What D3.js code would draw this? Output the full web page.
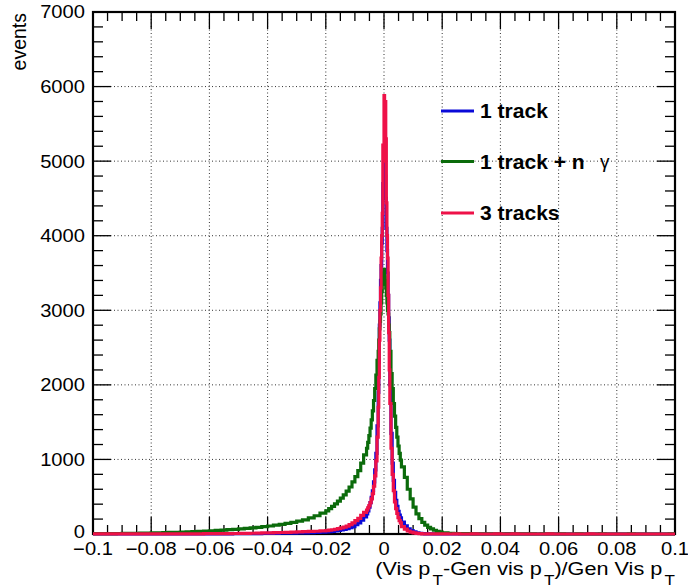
<!DOCTYPE html>
<html>
<head>
<meta charset="utf-8">
<script src="https://cdn.jsdelivr.net/npm/d3@7"></script>
<style>
  body { margin: 0; background: #fff; }
  text { font-family: "Liberation Sans", Arial, sans-serif; }
</style>
</head>
<body>
<svg id="chart" width="688" height="587"></svg>
<script>
// bin layout: [from, to, width] - fine bins near the peak, coarse in the tails
var binSegments = [[-0.1, -0.02, 0.002], [-0.02, -0.006, 0.001], [-0.006, -0.002, 0.0004], [-0.002, 0.002, 0.0002],
                   [0.002, 0.006, 0.0004], [0.006, 0.02, 0.001], [0.02, 0.1, 0.002]];

// counts per bin
var oneTrack = [
  0,0,0,1,0, 0,1,0,1,0, 1,1,1,1,1, 1,2,2,2,2, 2,3,3,3,4, 4,5,5,6,7, 8,9,10,11,12, 14,16,18,21,24,
  28,32,36,41,47,54,62,72,85,100,125,150,185,230,
  270,310,360,420,490,580,700,860,1080,1450,
  1900,2300,2800,3100,3400,3600,3900,4100,4700,4600, 5100,4900,4800,4500,4100,3800,3500,3200,2900,2600,
  2000,1350,950,720,560,450,370,305,255,215,
  160,110,70,45,28,17,10,6,3,2,1,1,0,1,
  1,0,0,1,0, 0,0,0,0,0, 0,1,0,0,0, 0,0,0,0,0, 0,0,0,0,0, 0,0,0,0,0, 0,0,0,0,0, 0,0,0,0,0
];
var oneTrackPhotons = [
  4,5,6,6,7,8,9,10,12,13, 15,17,19,21,23,26,29,32,35,39, 43,48,53,58,63,69,75,82,90,98, 107,118,130,143,157,172,190,215,245,280,
  310,340,370,405,440,480,525,575,630,700,770,850,950,1060,
  1150,1230,1320,1420,1530,1650,1790,1950,2130,2330,
  2450,2600,2750,2850,2950,3100,3250,3350,3450,3500, 3550,3450,3400,3300,3200,3100,3000,2950,2800,2700,
  2450,2150,1950,1750,1580,1430,1300,1180,1080,990,
  900,760,600,470,360,270,205,155,120,90,70,50,35,25,
  16,10,7,5,4,3,3,2,2,2, 2,1,1,1,1,1,0,1,1,0, 1,0,0,1,0,0,0,1,0,0, 0,0,1,0,0,0,0,0,0,1
];
var threeTracks = [
  1,1,1,1,1, 1,1,1,1,1, 2,2,2,2,2, 3,3,3,3,4, 4,5,5,6,7, 8,9,10,12,14, 16,18,20,22,25, 28,31,34,37,41,
  46,51,57,64,72,82,92,105,125,150,180,210,250,290,
  320,350,380,420,470,540,640,780,980,1300,
  1700,2100,2600,3000,3300,3700,4000,4300,5215,5000, 5880,5500,5800,5300,4440,4000,3700,3200,2700,2200,
  1750,1150,800,580,430,340,275,220,180,150,
  100,65,40,25,14,8,4,2,1,1,1,0,1,0,
  1,0,1,0,0, 1,0,0,0,1, 0,0,1,0,0, 0,0,0,1,0, 0,0,0,0,0, 1,0,0,0,0, 0,0,0,0,0, 0,0,0,0,0
];

var seriesNames = ["1 track", "1 track + n", "3 tracks"];
var xTicks = [-0.1, -0.08, -0.06, -0.04, -0.02, 0, 0.02, 0.04, 0.06, 0.08, 0.1];
var yTicks = [0, 1000, 2000, 3000, 4000, 5000, 6000, 7000];

var COLORS = ["#0a0ad8", "#0b6b0b", "#ee1148"];
var LEFT = 93, RIGHT = 675, TOP = 12, BOTTOM = 534;
var SX = 1.12;

var svg = d3.select("#chart");
var x = d3.scaleLinear().domain([-0.1, 0.1]).range([LEFT, RIGHT]);
var y = d3.scaleLinear().domain([0, 7000]).range([BOTTOM, TOP]);

var edges = [];
binSegments.forEach(function(s, k){
    var n = Math.round((s[1] - s[0]) / s[2]);
    for (var i = (k == 0 ? 0 : 1); i <= n; i++) edges.push(+(s[0] + i*s[2]).toFixed(5));
});

function fmt(v){
    if (v == 0) return "0";
    return (v < 0 ? "\u2212" : "") + String(+Math.abs(v).toFixed(2));
}

function label(px, py, str, opts){
    opts = opts || {};
    return svg.append("text")
        .attr("transform", "translate(" + px + "," + py + ") scale(" + (opts.sx || SX) + ",1)")
        .attr("text-anchor", opts.anchor || "middle")
        .attr("font-size", opts.size || 18)
        .attr("font-weight", opts.weight || "normal")
        .attr("dy", opts.dy || 0)
        .text(str);
}

// grid
svg.append("g").selectAll("line").data(xTicks.slice(1, -1)).enter().append("line")
    .attr("x1", function(d){return x(d)}).attr("x2", function(d){return x(d)})
    .attr("y1", TOP).attr("y2", BOTTOM)
    .attr("stroke", "#333").attr("stroke-width", 1).attr("stroke-dasharray", "1,2.5");
svg.append("g").selectAll("line").data(yTicks.slice(1, -1)).enter().append("line")
    .attr("y1", function(d){return y(d)}).attr("y2", function(d){return y(d)})
    .attr("x1", LEFT).attr("x2", RIGHT)
    .attr("stroke", "#333").attr("stroke-width", 1).attr("stroke-dasharray", "1,2.5");

// ticks on all four sides
var xMinor = d3.range(-0.1, 0.10001, 0.005).map(function(d){return +d.toFixed(3)});
var yMinor = d3.range(0, 7001, 200);
var ticks = svg.append("g").attr("stroke", "#000").attr("stroke-width", 1.3);
xMinor.forEach(function(d){
    var major = Math.abs(Math.round(d*50) - d*50) < 1e-6;
    var len = major ? 17 : 9;
    ticks.append("line").attr("x1", x(d)).attr("x2", x(d)).attr("y1", BOTTOM).attr("y2", BOTTOM - len);
    ticks.append("line").attr("x1", x(d)).attr("x2", x(d)).attr("y1", TOP).attr("y2", TOP + len);
});
yMinor.forEach(function(d){
    var len = d % 1000 == 0 ? 18 : 10;
    ticks.append("line").attr("y1", y(d)).attr("y2", y(d)).attr("x1", LEFT).attr("x2", LEFT + len);
    ticks.append("line").attr("y1", y(d)).attr("y2", y(d)).attr("x1", RIGHT).attr("x2", RIGHT - len);
});

svg.append("rect").attr("x", LEFT).attr("y", TOP).attr("width", RIGHT - LEFT).attr("height", BOTTOM - TOP)
    .attr("fill", "none").attr("stroke", "#000").attr("stroke-width", 2.2);

// tick labels
yTicks.forEach(function(d){ label(85, y(d) - (d == 0 ? 2 : 0), String(d), {anchor: "end", dy: "0.36em"}); });
xTicks.forEach(function(d){ label(x(d), 555, fmt(d)); });

// axis titles
svg.append("text")
    .attr("transform", "translate(26,13) rotate(-90)")
    .attr("text-anchor", "end").attr("font-size", 19.5).text("events");

var xt = svg.append("text")
    .attr("transform", "translate(" + RIGHT + ",575) scale(1.14,1)")
    .attr("text-anchor", "end").attr("font-size", 19);
[["(Vis p", 0, 19, 0], ["T", 10, 15, 2], ["-Gen vis p", -10, 19, 0], ["T", 10, 15, 2], [")/Gen Vis p", -10, 19, 0], ["T", 10, 15, 2]].forEach(function(p){
    xt.append("tspan").attr("dy", p[1]).attr("dx", p[3]).attr("font-size", p[2]).text(p[0]);
});

// histograms
var line = d3.line().x(function(d){return x(d[0])}).y(function(d){return y(d[1])});
function steps(values){
    var pts = [];
    values.forEach(function(v, i){ pts.push([edges[i], v]); pts.push([edges[i+1], v]); });
    return pts;
}
[oneTrack, oneTrackPhotons, threeTracks].forEach(function(values, i){
    svg.append("path").datum(steps(values))
        .attr("d", line)
        .attr("fill", "none")
        .attr("stroke", COLORS[i])
        .attr("stroke-width", 3.2)
        .attr("stroke-linejoin", "miter");
});

// legend
var legendY = [111, 161.5, 213];
seriesNames.forEach(function(name, i){
    svg.append("line").attr("x1", 441).attr("x2", 474).attr("y1", legendY[i]).attr("y2", legendY[i])
        .attr("stroke", COLORS[i]).attr("stroke-width", 3.2);
    label(480, legendY[i], name, {anchor: "start", size: 19.5, weight: "bold", sx: 1.08, dy: "0.36em"});
});
label(600, 161.5, "\u03b3", {anchor: "start", size: 18, sx: 1.05, dy: "0.36em"});
</script>
</body>
</html>
